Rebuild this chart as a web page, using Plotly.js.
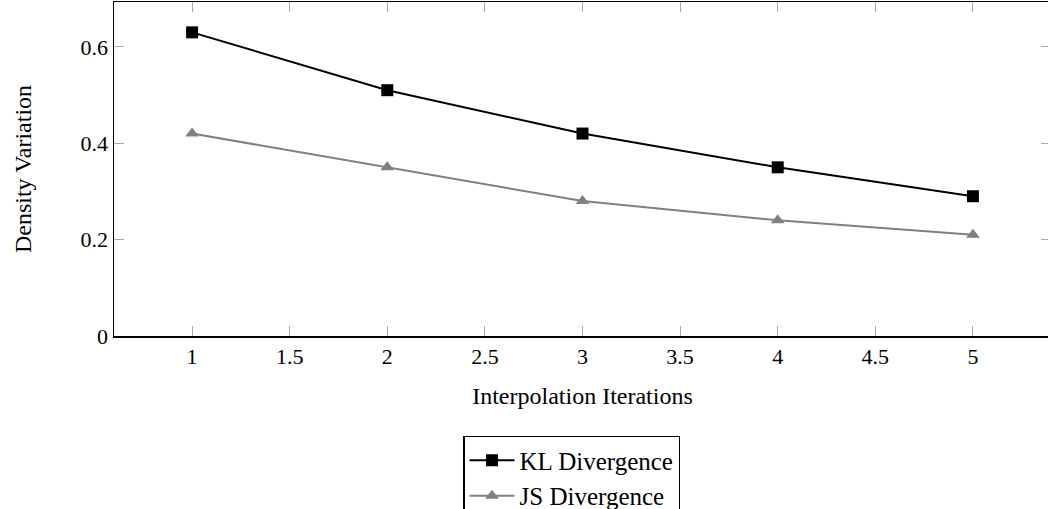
<!DOCTYPE html>
<html>
<head>
<meta charset="utf-8">
<script src="https://cdn.plot.ly/plotly-3.0.1.min.js"></script>
<style>html,body{margin:0;padding:0;background:#fff;overflow:hidden;width:1048px;height:509px;}#chart{width:1060px;height:509px;}</style>
</head>
<body>
<div id="chart"></div>
<script>
const iterations = [1, 2, 3, 4, 5];
const klDivergence = [0.63, 0.51, 0.42, 0.35, 0.29];
const jsDivergence = [0.42, 0.35, 0.28, 0.24, 0.21];
const seriesNames = ["KL Divergence", "JS Divergence"];
const xTitle = "Interpolation Iterations";
const yTitle = "Density Variation";

const font = "'Liberation Serif', 'Times New Roman', serif";
const traces = [
  {x: iterations, y: klDivergence, name: seriesNames[0], mode: "lines+markers",
   line: {color: "#000000", width: 2}, marker: {symbol: "square", size: 12, color: "#000000"}},
  {x: iterations, y: jsDivergence, name: seriesNames[1], mode: "lines+markers",
   line: {color: "#808080", width: 2}, marker: {symbol: "triangle-up", size: 12, color: "#808080"}},
  {x: iterations, y: klDivergence, yaxis: "y2", mode: "none", showlegend: false, hoverinfo: "skip"}
];
const layout = {
  width: 1060, height: 509,
  margin: {l: 114, r: 9, t: 2, b: 173},
  paper_bgcolor: "#fff", plot_bgcolor: "#fff",
  font: {family: font, size: 22, color: "#000"},
  xaxis: {range: [0.6, 5.4], dtick: 0.5, tick0: 0, ticks: "inside", ticklen: 10, tickcolor: "#aaaaaa",
          showline: true, linecolor: "#000", linewidth: 1.5, mirror: "ticks", showgrid: false, zeroline: false,
          title: {text: xTitle, font: {family: font, size: 24}, standoff: 19},
          tickfont: {family: font, size: 22}},
  yaxis: {range: [0, 0.693], dtick: 0.2, tick0: 0, ticks: "inside", ticklen: 10, tickcolor: "#aaaaaa",
          showline: true, linecolor: "#000", linewidth: 1.5, showgrid: false, zeroline: false,
          title: {text: yTitle, font: {family: font, size: 24}, standoff: 42},
          tickfont: {family: font, size: 22}},
  yaxis2: {range: [0, 0.693], dtick: 0.2, tick0: 0, overlaying: "y", side: "right", ticks: "inside", ticklen: 10,
           tickcolor: "#aaaaaa", showline: false, showticklabels: false, showgrid: false, zeroline: false},
  showlegend: true,
  legend: {xref: "paper", yref: "container", x: 0.3725, xanchor: "left", y: 0.1435, yanchor: "top",
           bgcolor: "#fff", bordercolor: "#000", borderwidth: 1.5, font: {family: font, size: 25},
           tracegroupgap: 0, itemwidth: 45}
};
Plotly.newPlot("chart", traces, layout, {displayModeBar: false, staticPlot: true});
</script>
</body>
</html>
